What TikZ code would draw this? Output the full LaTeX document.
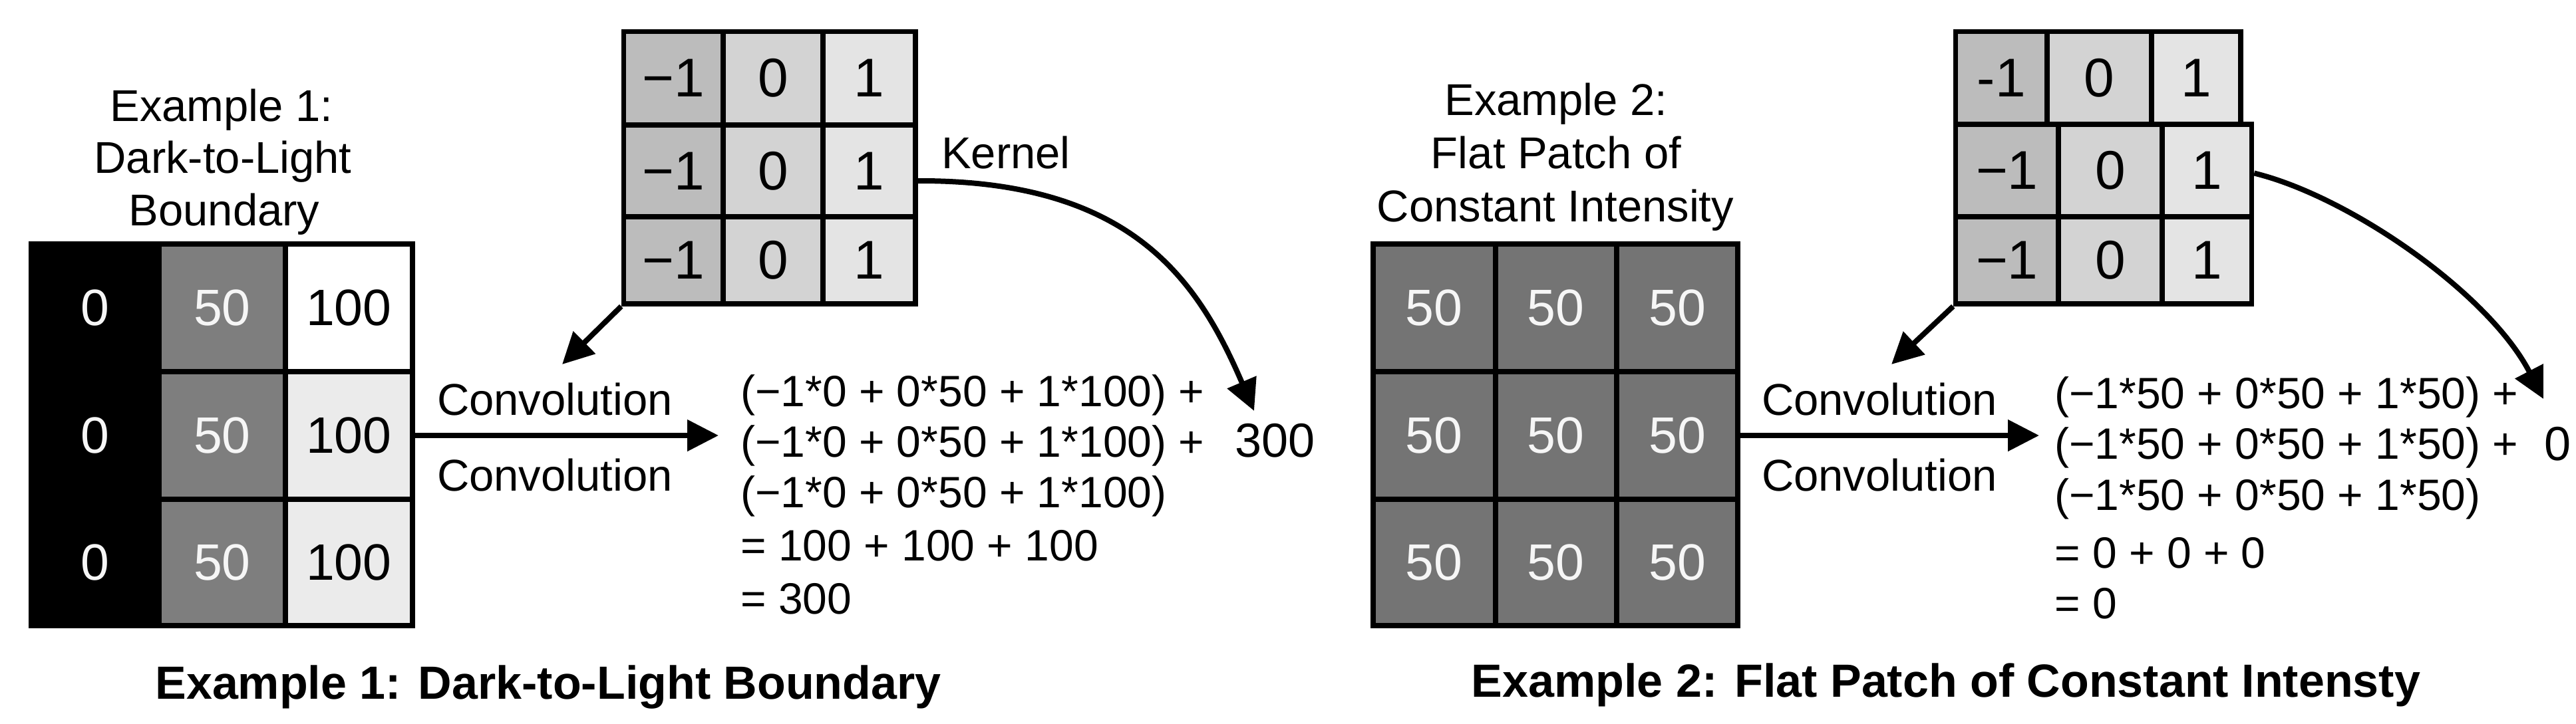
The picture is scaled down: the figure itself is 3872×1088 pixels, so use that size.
\documentclass[tikz,border=0pt]{standalone}
\usepackage{fontspec}
\setmainfont{Liberation Sans}
\usetikzlibrary{arrows.meta}
\definecolor{gA}{HTML}{7E7E7E}
\definecolor{gB}{HTML}{747474}
\definecolor{lightc}{HTML}{EBEBEB}
\definecolor{kA}{HTML}{BCBCBC}
\definecolor{kB}{HTML}{D3D3D3}
\definecolor{kC}{HTML}{E4E4E4}
\definecolor{wtxt}{HTML}{F6F6F6}
\newcommand\gcell[7]{%
  \pgfmathsetmacro\gcx{(#2+#4)/2}%
  \pgfmathsetmacro\gcy{(#3+#5)/2}%
  \pgfmathsetmacro\gcw{#4-#2}%
  \pgfmathsetmacro\gch{#5-#3}%
  \node[#6, minimum width=\gcw pt, minimum height=\gch pt] (#1) at (\gcx,\gcy) {#7};%
}
\begin{document}
\begin{tikzpicture}[x=1pt,y=-1pt,
  cell/.style={draw=black, line width=8pt, inner sep=0pt, font=\fontsize{77}{90}\selectfont},
  kcell/.style={draw=black, line width=7.5pt, inner sep=0pt, font=\fontsize{82}{90}\selectfont},
  lbl/.style={font=\fontsize{67}{78}\selectfont, inner sep=0pt, anchor=base},
  eql/.style={font=\fontsize{66}{78}\selectfont, inner sep=0pt, anchor=base west},
  res/.style={font=\fontsize{72}{80}\selectfont, inner sep=0pt, anchor=base west},
  btitle/.style={font=\bfseries\fontsize{70}{80}\selectfont, inner sep=0pt, anchor=base},
  arr/.style={line width=8pt, -{Triangle[length=47pt,width=46pt]}}]
\useasboundingbox (0,0) rectangle (3872,1088);
\fill[white] (0,0) rectangle (3872,1088);

% ---------- Example 1 : image patch ----------
\gcell{g11}{47}{367}{239}{559}{cell, fill=black, text=wtxt}{0}
\gcell{g21}{47}{559}{239}{751}{cell, fill=black, text=wtxt}{0}
\gcell{g31}{47}{751}{239}{941}{cell, fill=black, text=wtxt}{0}
\gcell{g12}{239}{367}{429}{559}{cell, fill=gA, text=wtxt}{50}
\gcell{g22}{239}{559}{429}{751}{cell, fill=gA, text=wtxt}{50}
\gcell{g32}{239}{751}{429}{941}{cell, fill=gA, text=wtxt}{50}
\gcell{g13}{429}{367}{619.5}{559}{cell, fill=white}{100}
\gcell{g23}{429}{559}{619.5}{751}{cell, fill=lightc}{100}
\gcell{g33}{429}{751}{619.5}{941}{cell, fill=lightc}{100}

\node[lbl] (t1a) at (333,182) {Example 1:};
\node[lbl] (t1b) at (335,260) {Dark-to-Light};
\node[lbl] (t1c) at (337,339) {Boundary};

% ---------- Kernel 1 ----------
\gcell{k11}{937.5}{47.5}{1087}{188}{kcell, fill=kA}{−1}
\gcell{k12}{1087}{47.5}{1237}{188}{kcell, fill=kB}{0}
\gcell{k13}{1237}{47.5}{1376}{188}{kcell, fill=kC}{1}
\gcell{k21}{937.5}{188}{1087}{326}{kcell, fill=kA}{−1}
\gcell{k22}{1087}{188}{1237}{326}{kcell, fill=kB}{0}
\gcell{k23}{1237}{188}{1376}{326}{kcell, fill=kC}{1}
\gcell{k31}{937.5}{326}{1087}{457}{kcell, fill=kA}{−1}
\gcell{k32}{1087}{326}{1237}{457}{kcell, fill=kB}{0}
\gcell{k33}{1237}{326}{1376}{457}{kcell, fill=kC}{1}

\node[lbl, anchor=base west] (kl1) at (1415,253) {Kernel};

\node[lbl] (cv1a) at (834,624) {Convolution};
\node[lbl] (cv1b) at (834,738) {Convolution};

\node[eql] (e1a) at (1113,611) {(−1*0 + 0*50 + 1*100) +};
\node[eql] (e1b) at (1113,687) {(−1*0 + 0*50 + 1*100) +};
\node[eql] (e1c) at (1113,763) {(−1*0 + 0*50 + 1*100)};
\node[eql] (e1d) at (1113,843) {= 100 + 100 + 100};
\node[eql] (e1e) at (1113,923) {= 300};
\node[res] (r1) at (1856,687) {300};

\coordinate (h1) at (1080,655);
\coordinate (d1) at (845,548);
\coordinate (c1) at (1885,618);
\draw[arr] (g23.east) -- (h1);
\draw[arr] (k31.south west) -- (d1);
\draw[arr] ([yshift=-15pt]k23.east) .. controls (1700,271) and (1800,420) .. (c1);

\node[btitle] (bt1) at (824,1051) {Example 1: Dark-to-Light Boundary};

% ---------- Example 2 : image patch ----------
\gcell{h11}{2064}{367}{2247.5}{559}{cell, fill=gB, text=wtxt}{50}
\gcell{h12}{2247.5}{367}{2430}{559}{cell, fill=gB, text=wtxt}{50}
\gcell{h13}{2430}{367}{2612}{559}{cell, fill=gB, text=wtxt}{50}
\gcell{h21}{2064}{559}{2247.5}{751}{cell, fill=gB, text=wtxt}{50}
\gcell{h22}{2247.5}{559}{2430}{751}{cell, fill=gB, text=wtxt}{50}
\gcell{h23}{2430}{559}{2612}{751}{cell, fill=gB, text=wtxt}{50}
\gcell{h31}{2064}{751}{2247.5}{941}{cell, fill=gB, text=wtxt}{50}
\gcell{h32}{2247.5}{751}{2430}{941}{cell, fill=gB, text=wtxt}{50}
\gcell{h33}{2430}{751}{2612}{941}{cell, fill=gB, text=wtxt}{50}

\node[lbl] (t2a) at (2339,173) {Example 2:};
\node[lbl] (t2b) at (2339,253) {Flat Patch of};
\node[lbl] (t2c) at (2338,333) {Constant Intensity};

% ---------- Kernel 2 ----------
\gcell{m11}{2939.5}{47.5}{3077}{187}{kcell, fill=kA}{-1}
\gcell{m12}{3077}{47.5}{3234}{187}{kcell, fill=kB}{0}
\gcell{m13}{3234}{47.5}{3368}{187}{kcell, fill=kC}{1}
\gcell{m21}{2939.5}{187}{3094}{326}{kcell, fill=kA}{−1}
\gcell{m22}{3094}{187}{3250}{326}{kcell, fill=kB}{0}
\gcell{m23}{3250}{187}{3384.5}{326}{kcell, fill=kC}{1}
\gcell{m31}{2939.5}{326}{3094}{457}{kcell, fill=kA}{−1}
\gcell{m32}{3094}{326}{3250}{457}{kcell, fill=kB}{0}
\gcell{m33}{3250}{326}{3384.5}{457}{kcell, fill=kC}{1}

\node[lbl] (cv2a) at (2825,624) {Convolution};
\node[lbl] (cv2b) at (2825,738) {Convolution};

\node[eql] (e2a) at (3088,614) {(−1*50 + 0*50 + 1*50) +};
\node[eql] (e2b) at (3088,690) {(−1*50 + 0*50 + 1*50) +};
\node[eql] (e2c) at (3088,767) {(−1*50 + 0*50 + 1*50)};
\node[eql] (e2d) at (3088,854) {= 0 + 0 + 0};
\node[eql] (e2e) at (3088,930) {= 0};
\node[res] (r2) at (3824,692) {0};

\coordinate (h2) at (3065,655);
\coordinate (d2) at (2843,548);
\coordinate (c2) at (3823,600);
\draw[arr] (h23.east) -- (h2);
\draw[arr] (m31.south west) -- (d2);
\draw[arr] ([yshift=-4pt]m23.east) .. controls (3530,295) and (3740,440) .. (c2);

\node[btitle] (bt2) at (2925,1048) {Example 2: Flat Patch of Constant Intensty};
\end{tikzpicture}
\end{document}
